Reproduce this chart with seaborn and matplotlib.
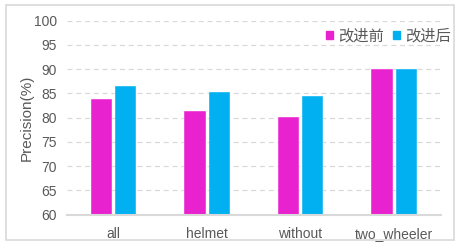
import matplotlib
matplotlib.use("Agg")
import matplotlib.pyplot as plt
import seaborn as sns
import pandas as pd
from matplotlib.patches import Rectangle

categories = ["all", "helmet", "without", "two_wheeler"]
before = [83.8, 81.4, 80.1, 90.0]
after = [86.5, 85.3, 84.4, 90.0]
series_names = ["改进前", "改进后"]
colors = ["#E922CF", "#00B0F0"]
yticks = [60, 65, 70, 75, 80, 85, 90, 95, 100]

df = pd.DataFrame({
    "cat": categories * 2,
    "val": before + after,
    "series": [series_names[0]] * 4 + [series_names[1]] * 4,
})

sns.set_style("white")
plt.rcParams['font.family'] = ['Noto Sans CJK SC', 'DejaVu Sans']
text_color = "#595959"
latin = ['Liberation Sans', 'DejaVu Sans']

fig = plt.figure(figsize=(4.64, 2.48), dpi=100)
ax = fig.add_axes([0.144, 0.135, 0.806, 0.782])

sns.barplot(data=df, x="cat", y="val", hue="series", palette=colors,
            width=0.52, gap=0.12, ax=ax, legend=False, saturation=1)

ax.set_ylim(60, 100)
ax.set_yticks(yticks)
ax.set_yticklabels([str(t) for t in yticks], fontsize=10, color=text_color, family=latin)
ax.set_xticks(range(len(categories)))
ax.set_xticklabels(categories, fontsize=10, color=text_color, family=latin)
ax.set_xlim(-0.5, len(categories) - 0.5)
ax.set_xlabel("")
ax.set_ylabel("Precision(%)", fontsize=11, color=text_color, family=latin)
ax.yaxis.set_label_coords(-0.088, 0.5)
ax.tick_params(axis='y', length=0, pad=7)
ax.tick_params(axis='x', length=0, pad=9)

ax.yaxis.grid(True, color="#D9D9D9", linestyle=(0, (4, 3)), linewidth=0.9)
ax.set_axisbelow(True)
for s in ["top", "right", "left"]:
    ax.spines[s].set_visible(False)
ax.spines["bottom"].set_color("#D9D9D9")
ax.spines["bottom"].set_linewidth(1.5)

for p in ax.patches:
    p.set_edgecolor("white")
    p.set_linewidth(0.3)

# legend
handles = [Rectangle((0, 0), 1, 1, color=c) for c in colors]
fig.legend(handles, series_names, loc="center right", bbox_to_anchor=(0.985, 0.855),
           ncol=2, frameon=False, fontsize=11, handlelength=0.45, handleheight=0.45,
           handletextpad=0.35, columnspacing=0.6, labelcolor=text_color, borderaxespad=0)

# outer border
fig.patches.append(Rectangle((6 / 464, 8 / 248), 448 / 464, 235 / 248,
                             transform=fig.transFigure, fill=False,
                             edgecolor="#D9D9D9", linewidth=1.2))

fig.savefig("out.png", dpi=100)
